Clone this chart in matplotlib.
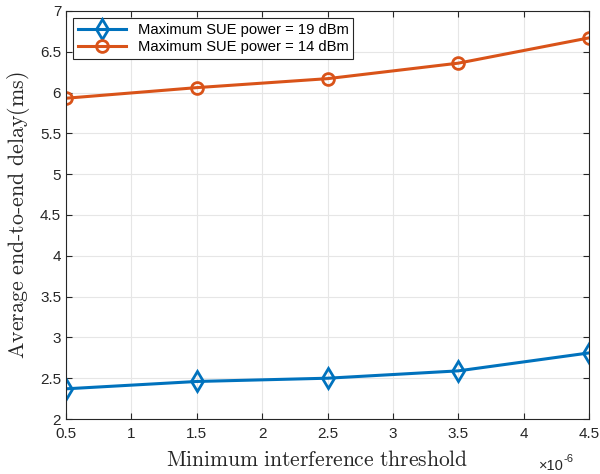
import matplotlib
matplotlib.use("Agg")
import matplotlib.pyplot as plt
from matplotlib.ticker import FuncFormatter

plt.rcParams['font.family'] = ['Liberation Sans', 'DejaVu Sans']
plt.rcParams['mathtext.fontset'] = 'cm'

# data
threshold = [0.5e-6, 1.5e-6, 2.5e-6, 3.5e-6, 4.5e-6]
delay_19dbm = [2.37, 2.46, 2.50, 2.59, 2.81]
delay_14dbm = [5.93, 6.06, 6.17, 6.36, 6.67]
labels = ['Maximum SUE power = 19 dBm', 'Maximum SUE power = 14 dBm']

blue = '#0072BD'
orange = '#D95319'
txt = '#262626'

fig = plt.figure(figsize=(6, 4.74), dpi=100)
ax = fig.add_axes([0.11, 0.116, 0.872, 0.861])

ax.plot(threshold, delay_19dbm, color=blue, lw=2.2, marker='d', ms=10,
        mfc='none', mew=2, label=labels[0])
ax.plot(threshold, delay_14dbm, color=orange, lw=2.2, marker='o', ms=8.5,
        mfc='none', mew=2, label=labels[1])

ax.set_xlim(0.5e-6, 4.5e-6)
ax.set_ylim(2, 7)
ax.set_xticks([i * 0.5e-6 for i in range(1, 10)])
ax.set_yticks([2 + 0.5 * i for i in range(11)])
ax.xaxis.set_major_formatter(FuncFormatter(lambda v, p: f'{v * 1e6:g}'))
ax.yaxis.set_major_formatter(FuncFormatter(lambda v, p: f'{v:g}'))
ax.tick_params(direction='in', length=4, labelsize=11, colors=txt,
               top=True, right=True)
ax.tick_params(axis='x', pad=6)
ax.grid(True, color='#e6e6e6', lw=0.8)
ax.set_axisbelow(True)
for s in ax.spines.values():
    s.set_color(txt)
    s.set_linewidth(0.8)

ax.set_xlabel(r'$\mathrm{Minimum\ interference\ threshold}$', fontsize=15.5,
              color=txt)
ax.xaxis.set_label_coords(0.48, -0.077, transform=ax.transAxes)
ax.xaxis.label.set_va('top')
ax.set_ylabel(r'$\mathrm{Average\ end\text{-}to\text{-}end\ delay(ms)}$',
              fontsize=15.8, color=txt, labelpad=6)
# exponent note like MATLAB
ax.text(0.951, -0.098, '×10', transform=ax.transAxes,
        ha='right', va='top', fontsize=10.5, color=txt)
ax.text(0.951, -0.085, '-6', transform=ax.transAxes,
        ha='left', va='top', fontsize=8, color=txt)

leg = ax.legend(loc='upper left', fontsize=10.6, fancybox=False, framealpha=1,
                edgecolor=txt, handlelength=3.3, borderpad=0.3,
                labelspacing=0.25, borderaxespad=0.5)
leg.get_frame().set_linewidth(0.8)

fig.savefig('out.png', dpi=100)
